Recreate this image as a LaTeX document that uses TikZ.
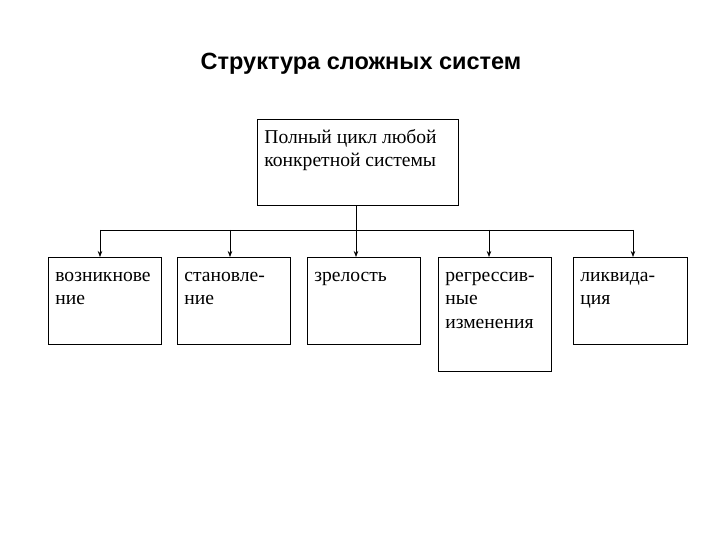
\documentclass[tikz,border=0pt]{standalone}
\usepackage{fontspec}
\setmainfont{Liberation Serif}
\newfontfamily\titlefont{Liberation Sans}
\usetikzlibrary{arrows.meta,calc,positioning}

\begin{document}
\begin{tikzpicture}[x=1pt,y=-1pt]
	\tikzset{box/.style={draw, line width=.7pt, anchor=north west, align=flush left, inner xsep=7pt, inner ysep=8pt, text height=16pt, font=\fontsize{19.6}{23.5}\selectfont}}
	\tikzset{feed/.style={-{Stealth[length=6pt,width=4.5pt]}, line width=.7pt}}
	\useasboundingbox (0,0) rectangle (720,540);

	% title
	\node[font=\titlefont\bfseries\fontsize{23.5}{28}\selectfont] (title) at (361,64) {Структура сложных систем};

	% boxes
	\node[box, text width=187pt, text depth=54pt] (cycle) at (257,119) {Полный цикл любой\\конкретной системы};
	\node[box, text width=99pt, text depth=55pt] (b1) at (48,257) {возникнове\\ние};
	\node[box, text width=99pt, text depth=55pt] (b2) at (177,257) {становле-\\ние};
	\node[box, text width=99pt, text depth=55pt] (b3) at (307,257) {зрелость};
	\node[box, text width=99pt, text depth=82pt] (b4) at (438,257) {регрессив-\\ные\\изменения};
	\node[box, text width=100pt, text depth=55pt] (b5) at (573,257) {ликвида-\\ция};

	% bus
	\coordinate (a1) at (100,230);
	\coordinate (a2) at (230,230);
	\coordinate (a3) at (356,230);
	\coordinate (a4) at (489,230);
	\coordinate (a5) at (633,230);

	% edges
	\draw[line width=.7pt] (a1) -- (a5);
	\draw[feed] (a3 |- cycle.south) -- (a3 |- b3.north);
	\draw[feed] (a1) -- (a1 |- b1.north);
	\draw[feed] (a2) -- (a2 |- b2.north);
	\draw[feed] (a4) -- (a4 |- b4.north);
	\draw[feed] (a5) -- (a5 |- b5.north);
\end{tikzpicture}
\end{document}
